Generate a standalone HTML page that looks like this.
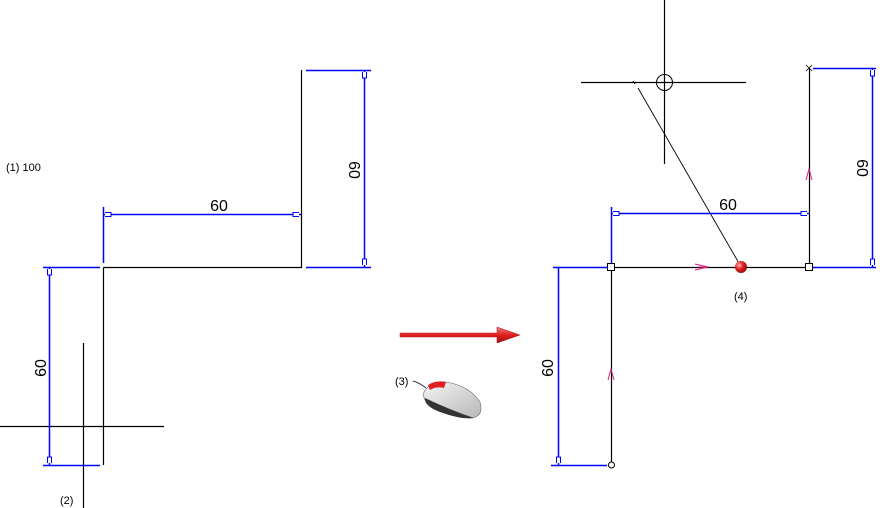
<!DOCTYPE html>
<html><head><style>body{margin:0;background:#fff}svg{display:block}text{font-family:"Liberation Sans",sans-serif}</style></head>
<body>
<svg width="880" height="508" viewBox="0 0 880 508">
<defs>
<linearGradient id="ra" x1="0" y1="0" x2="0" y2="1"><stop offset="0" stop-color="#f08080"/><stop offset="0.5" stop-color="#e02020"/><stop offset="1" stop-color="#a01010"/></linearGradient>
<radialGradient id="ball" cx="0.35" cy="0.35" r="0.7"><stop offset="0" stop-color="#ffb0b0"/><stop offset="0.5" stop-color="#e02020"/><stop offset="1" stop-color="#901010"/></radialGradient>
<linearGradient id="ms" x1="0" y1="0" x2="1" y2="1"><stop offset="0" stop-color="#f4f4f4"/><stop offset="1" stop-color="#b8b8b8"/></linearGradient>
</defs>
<g stroke="#000" stroke-width="1.2" fill="none">
<path d="M103.5 267.5H301.5V70M103.5 267.5V465M0 426.5H164M83.5 343V510"/>
<path d="M611.5 267.5H809.5V68M611.5 267.5V465M581 82.5H746M664.5 0V164"/>
<rect x="607.5" y="263.5" width="7" height="7" fill="#fff" stroke-width="1"/>
<rect x="805.5" y="263.5" width="7" height="7" fill="#fff" stroke-width="1"/>
</g>
<g stroke="#000" fill="none">
<circle cx="664.5" cy="82.5" r="8"/>
<path d="M638 88L740 265" stroke-width="0.9"/>
<path d="M633 81L635 84" stroke-width="0.9"/>
<circle cx="611.5" cy="465" r="3" fill="#fff"/>
<path d="M806 65L812 71M812 65L806 71" stroke-width="0.8"/>
</g>
<g stroke="#0000ff" stroke-width="1.5" fill="none">
<path d="M103.5 207V263M103 214.5H301M306 70.5H371M306 267.5H371M364.5 70V267M43 267.5H100M49.5 267V465M43 465.5H100"/>
<path d="M611.5 207V263M611 213.5H809M813 68.5H876M813 267.5H876M872.5 68V267M553 267.5H607M558.5 267V465M551 465.5H607"/>
</g>
<g stroke="#0000ff" stroke-width="1" fill="#fff">
<path d="M105 212.5h6v4h-6M299 212.5h-6v4h6M362.5 72v6h4v-6M362.5 265v-6h4v6M47.5 269v6h4v-6M47.5 463v-6h4v6"/>
<path d="M613 211.5h6v4h-6M807 211.5h-6v4h6M870.5 70v6h4v-6M870.5 265v-6h4v6M556.5 463v-6h4v6"/>
</g>
<g font-size="16" fill="#000">
<text x="219" y="211" text-anchor="middle">60</text>
<text x="728" y="210" text-anchor="middle">60</text>
<text transform="translate(349,170) rotate(90)" text-anchor="middle">60</text>
<text transform="translate(857,168) rotate(90)" text-anchor="middle">60</text>
<text transform="translate(46,368) rotate(-90)" text-anchor="middle">60</text>
<text transform="translate(553,368) rotate(-90)" text-anchor="middle">60</text>
</g>
<g font-size="11" fill="#000">
<text x="6" y="171">(1) 100</text>
<text x="60" y="504">(2)</text>
<text x="395" y="385">(3)</text>
<text x="734" y="300">(4)</text>
</g>
<g stroke="#d0207a" stroke-width="1" fill="none">
<path d="M695 264L708 267L695 270M698 267H708"/>
<path d="M806 180L809 169L812 180"/>
<path d="M608 380L611 369L614 380"/>
</g>
<circle cx="741" cy="267" r="6" fill="url(#ball)"/>
<path d="M400 333H497V327L520 335L497 343V337H400Z" fill="url(#ra)" stroke="#b01818" stroke-width="0.5"/>
<path d="M413 381Q420 383 426 388" stroke="#000" stroke-width="0.8" fill="none"/>
<path d="M424 392Q430 381 446 382Q470 386 480 402Q484 416 472 418Q450 414 430 404Q422 400 424 392Z" fill="url(#ms)" stroke="#666" stroke-width="0.6"/>
<path d="M425 398Q450 410 474 418Q462 420 440 412Q424 406 425 398Z" fill="#333"/>
<path d="M428 385Q436 380 446 382L444 388Q436 386 430 390Z" fill="#e02020"/>
</svg>
</body></html>
